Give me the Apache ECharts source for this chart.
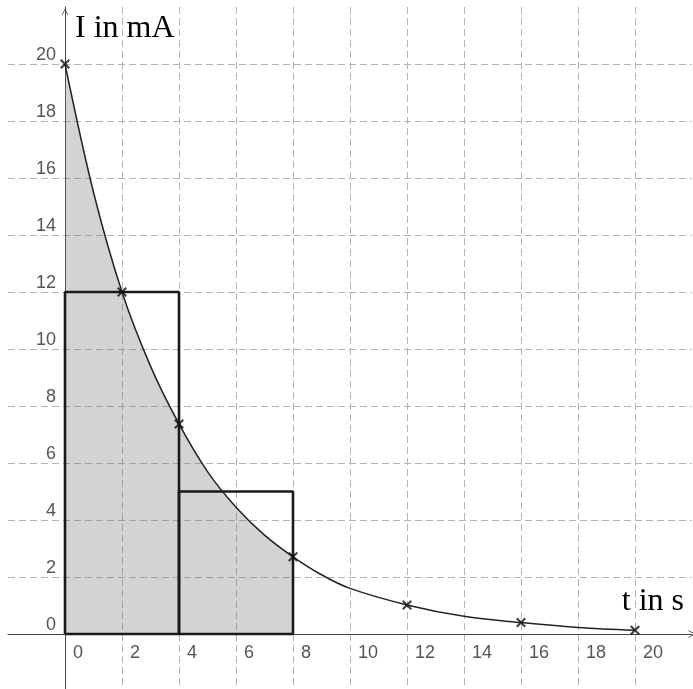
<!DOCTYPE html>
<html>
<head>
<meta charset="utf-8">
<script src="https://cdn.jsdelivr.net/npm/echarts@6/dist/echarts.min.js"></script>
<style>
  html, body { margin: 0; padding: 0; background: #fff; }
  #chart { width: 693px; height: 689px; }
</style>
</head>
<body>
<div id="chart"></div>
<script>
// Discharge current (t in s, I in mA)
const curveT = [0, 1, 2, 3, 4, 5, 6, 7, 8, 9, 10, 12, 14, 16, 18, 20];
const curveI = [20, 15.5, 12, 9.4, 7.37, 5.7, 4.45, 3.47, 2.71, 2.08, 1.6, 1.02, 0.62, 0.4, 0.23, 0.13];

// Shaded part ends at t = 8
const areaEnd = 8;

// Measured points (crosses)
const markT = [0, 2, 4, 8, 12, 16, 20];
const markI = [20, 12, 7.37, 2.71, 1.02, 0.4, 0.13];

// Rectangles used for the estimate
const rect1 = [[0, 0], [0, 12], [4, 12], [4, 0], [0, 0]];
const rect2 = [[4, 0], [4, 5], [8, 5], [8, 0], [4, 0]];

const curveData = curveT.map((t, i) => [t, curveI[i]]);
const areaData = curveData.filter(p => p[0] <= areaEnd);
const markData = markT.map((t, i) => [t, markI[i]]);

const crossSymbol = 'path://M0,1.5L1.5,0L5,3.5L8.5,0L10,1.5L6.5,5L10,8.5L8.5,10L5,6.5L1.5,10L0,8.5L3.5,5Z';
const chevron = 'path://M0,10L5,0L10,10L9.2,10.6L5,2.4L0.8,10.6Z';

const labelStyle = {
  fontFamily: 'Liberation Sans',
  fontSize: 18,
  color: '#555'
};
const splitLine = {
  show: true,
  showMinLine: false,
  showMaxLine: false,
  lineStyle: { color: '#b4b4b4', type: [7, 4], width: 1 }
};
const axisLineStyle = { color: '#444', width: 1 };

const chart = echarts.init(document.getElementById('chart'));
chart.setOption({
  animation: false,
  grid: { left: 8, right: 1, top: 7, bottom: -2, containLabel: false, outerBoundsMode: 'none' },
  xAxis: {
    type: 'value',
    min: -2,
    max: 22,
    interval: 2,
    name: 't in s',
    nameLocation: 'end',
    nameGap: 0,
    nameTextStyle: {
      fontFamily: 'Liberation Serif',
      fontSize: 32,
      color: '#000',
      align: 'right',
      verticalAlign: 'bottom',
      padding: [0, 8, 16, 0]
    },
    axisLine: {
      onZero: true,
      symbol: ['none', chevron],
      symbolSize: [13, 8],
      lineStyle: axisLineStyle
    },
    axisTick: { show: false },
    axisLabel: {
      ...labelStyle,
      align: 'left',
      verticalAlign: 'top',
      margin: -47,
      padding: [0, 0, 0, 8],
      showMinLabel: false,
      showMaxLabel: false
    },
    splitLine
  },
  yAxis: {
    type: 'value',
    min: -2,
    max: 22,
    interval: 2,
    name: 'I in mA',
    nameLocation: 'end',
    nameGap: -22,
    nameTextStyle: {
      fontFamily: 'Liberation Serif',
      fontSize: 32,
      color: '#000',
      align: 'left',
      verticalAlign: 'middle',
      padding: [0, 0, 0, 10]
    },
    axisLine: {
      onZero: true,
      symbol: ['none', chevron],
      symbolSize: [14, 7],
      symbolOffset: [0, -5],
      lineStyle: axisLineStyle
    },
    axisTick: { show: false },
    axisLabel: {
      ...labelStyle,
      align: 'right',
      margin: -48,
      verticalAlign: 'bottom',
      showMinLabel: false,
      showMaxLabel: false
    },
    splitLine
  },
  series: [
    {
      type: 'line',
      data: areaData,
      smooth: 0.35,
      symbol: 'none',
      lineStyle: { width: 0 },
      areaStyle: { color: 'rgba(120,120,120,0.33)', opacity: 1 },
      z: 1
    },
    {
      type: 'line',
      data: curveData,
      smooth: 0.35,
      symbol: 'none',
      lineStyle: { color: '#222', width: 1.5 },
      z: 3
    },
    {
      type: 'line',
      data: rect1,
      symbol: 'none',
      lineStyle: { color: '#1a1a1a', width: 2.6 },
      z: 4
    },
    {
      type: 'line',
      data: rect2,
      symbol: 'none',
      lineStyle: { color: '#1a1a1a', width: 2.6 },
      z: 4
    },
    {
      type: 'scatter',
      data: markData,
      symbol: crossSymbol,
      symbolSize: 10,
      itemStyle: { color: '#111' },
      z: 5
    }
  ]
});
</script>
</body>
</html>
